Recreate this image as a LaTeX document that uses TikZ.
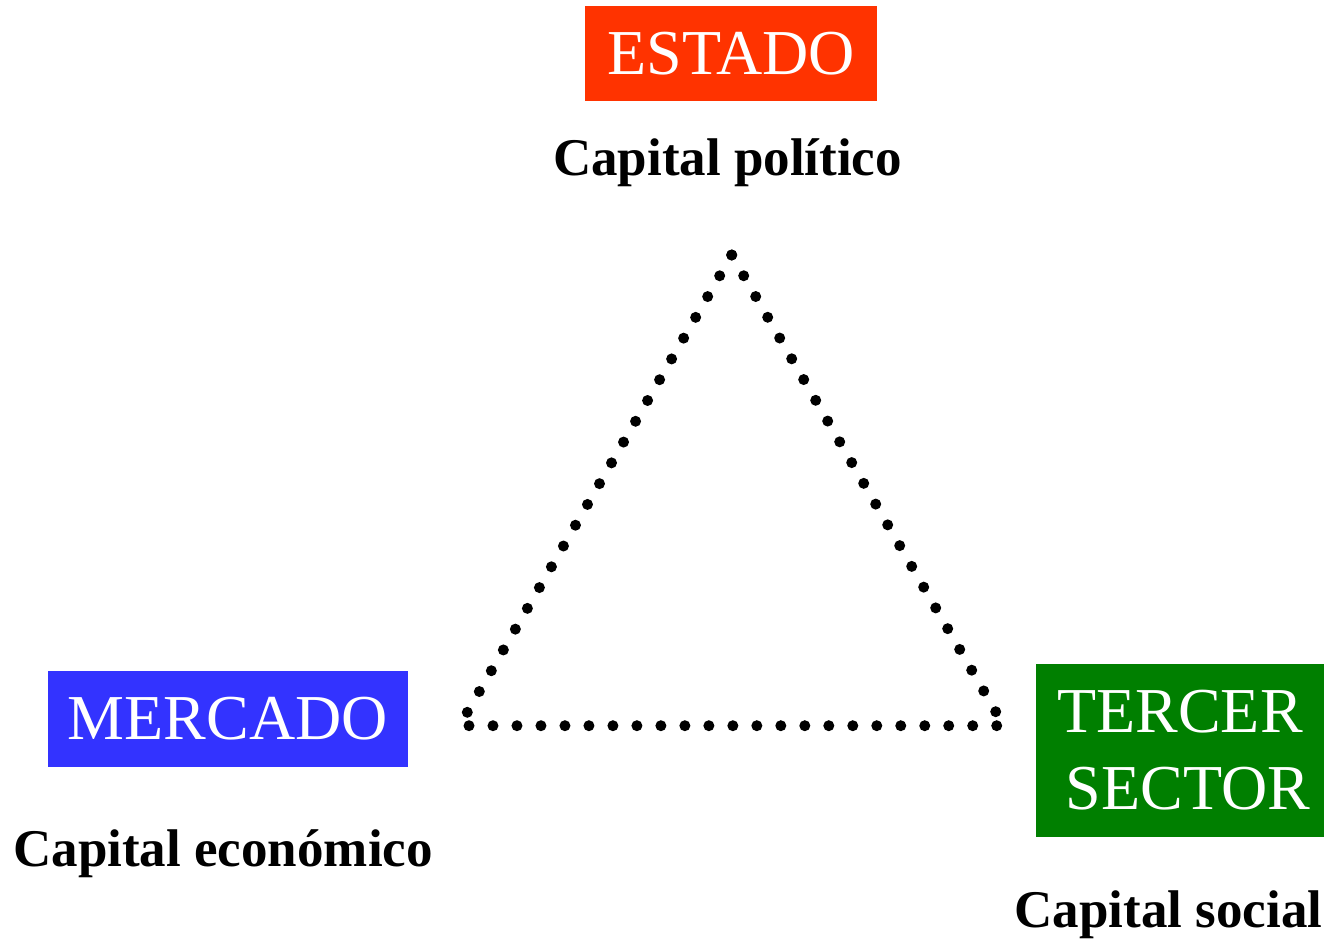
\documentclass[tikz,border=0pt]{standalone}
\usepackage{fontspec}
\setmainfont{Liberation Serif}
\usetikzlibrary{calc}
\definecolor{estadored}{HTML}{FF3300}
\definecolor{mercadoblue}{HTML}{3333FF}
\definecolor{tercergreen}{HTML}{007F00}
\tikzset{
  sectorbox/.style={inner sep=0pt, text=white, align=center,
    font=\fontsize{64}{77}\selectfont},
  capitallabel/.style={anchor=base, inner sep=0pt,
    font=\fontsize{53}{64}\selectfont\bfseries},
}
\begin{document}
\begin{tikzpicture}[x=1pt,y=-1pt]
\useasboundingbox (0,0) rectangle (1324,939);
% the three sectors
\node[sectorbox, fill=estadored, minimum width=292pt, minimum height=95pt]
    (estado) at (731,53.5) {ESTADO};
\node[sectorbox, fill=mercadoblue, minimum width=360pt, minimum height=96pt]
    (mercado) at (228,719) {MERCADO};
\node[sectorbox, fill=tercergreen, minimum width=288pt, minimum height=173pt]
    (tercer) at (1180,750.5) {TERCER\\ \hspace*{16pt}SECTOR};
% what each one brings
\node[capitallabel] (politico) at (727.5,175) {Capital político};
\node[capitallabel] (economico) at (223,866) {Capital económico};
\node[capitallabel] (social) at (1168.5,927) {Capital social};
% corners of the dotted triangle
\coordinate (apex) at (731.7,255);
\coordinate (leftside) at (467.3,712.3);
\coordinate (rightside) at (995.7,711.7);
\coordinate (leftbase) at (469,725.7);
\coordinate (rightbase) at (996.7,725.7);
% 23 dots on every side
\foreach \i in {0,...,22} {
  \fill ($(apex)!\i/22!(leftside)$) circle (5.5pt);
  \fill ($(apex)!\i/22!(rightside)$) circle (5.5pt);
  \fill ($(leftbase)!\i/22!(rightbase)$) circle (5.5pt);
}
\end{tikzpicture}
\end{document}
